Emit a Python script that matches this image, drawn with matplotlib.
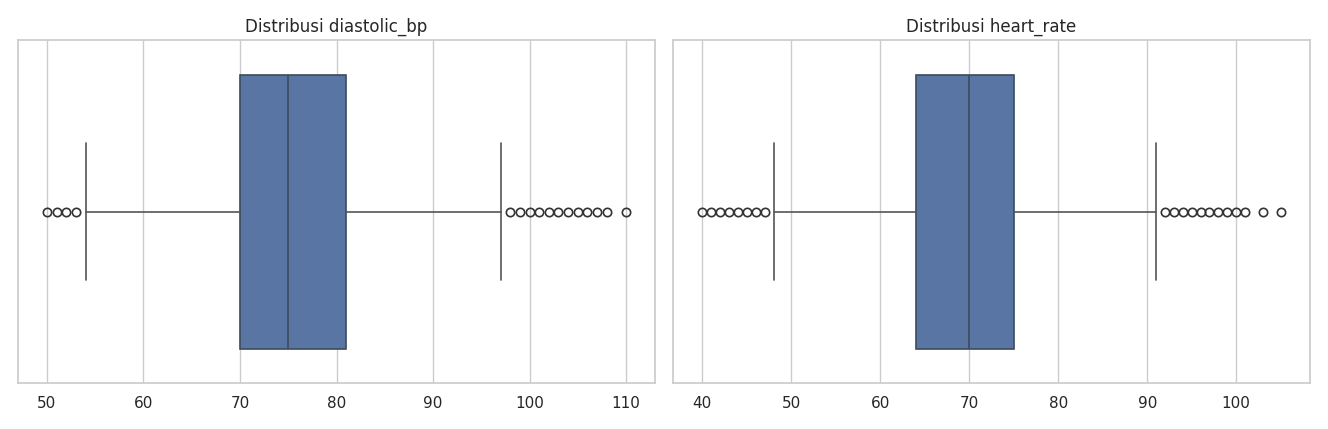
import matplotlib
matplotlib.use("Agg")
import matplotlib.pyplot as plt
import seaborn as sns

sns.set_theme(style="whitegrid")

titles = ["Distribusi diastolic_bp", "Distribusi heart_rate"]
# five-number summaries
whislo = [54, 48]
q1 = [70, 64]
med = [75, 70]
q3 = [81, 75]
whishi = [97, 91]
fliers = [
    [50, 51, 52, 53, 98, 99, 100, 101, 102, 103, 104, 105, 106, 107, 108, 110],
    [40, 41, 42, 43, 44, 45, 46, 47, 92, 93, 94, 95, 96, 97, 98, 99, 100, 101, 103, 105],
]
xticks = [[50, 60, 70, 80, 90, 100, 110], [40, 50, 60, 70, 80, 90, 100]]
xlims = [(47, 113), (36.7, 108.3)]

fig, axes = plt.subplots(1, 2, figsize=(13.28, 4.29), dpi=100)
line = "#555555"
for k, ax in enumerate(axes):
    stats = [dict(whislo=whislo[k], q1=q1[k], med=med[k], q3=q3[k],
                  whishi=whishi[k], fliers=fliers[k])]
    ax.bxp(stats, positions=[0], widths=0.8, vert=False, patch_artist=True,
           capwidths=0.4,
           boxprops=dict(facecolor="#5875a4", edgecolor="#3d4a5c", linewidth=1.2),
           medianprops=dict(color="#3d4a5c", linewidth=1.2),
           whiskerprops=dict(color=line, linewidth=1.2),
           capprops=dict(color=line, linewidth=1.2),
           flierprops=dict(marker="o", markerfacecolor="none",
                           markeredgecolor="#333333", markersize=6, markeredgewidth=1.2))
    ax.set_ylim(0.5, -0.5)
    ax.set_yticks([])
    ax.set_xticks(xticks[k])
    ax.set_xlim(*xlims[k])
    ax.grid(axis="y", visible=False)
    ax.set_title(titles[k])

plt.tight_layout()
plt.savefig("out.png")
